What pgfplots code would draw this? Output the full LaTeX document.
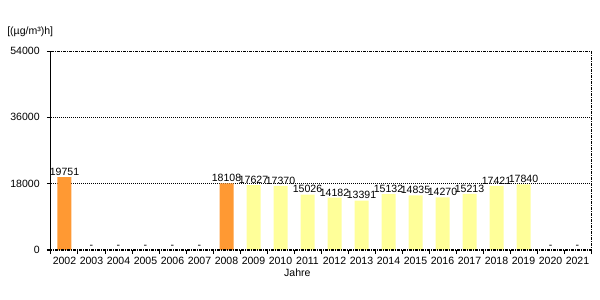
\documentclass[border=0pt]{standalone}
\usepackage{fontspec}
\setmainfont{Liberation Sans}
\usepackage{pgfplots}
\pgfplotsset{compat=1.18}
\definecolor{barorange}{RGB}{255,153,51}
\definecolor{baryellow}{RGB}{255,255,153}
\pgfplotsset{/pgf/number format/assume math mode=true, /pgf/number format/1000 sep={}}
\begin{document}
\begin{tikzpicture}[font=\fontsize{7.9}{9}\selectfont]
\begin{axis}[
  at={(38.25pt,37.5pt)}, anchor=south west,
  scale only axis, width=405pt, height=149.25pt,
  xmin=-0.5, xmax=19.5, ymin=0, ymax=54000,
  xtick={0,...,19},
  xticklabels={2002,2003,2004,2005,2006,2007,2008,2009,2010,2011,2012,2013,2014,2015,2016,2017,2018,2019,2020,2021},
  major x tick style={draw=none},
  minor xtick={-0.5,0.5,...,19.5},
  minor tick length=3pt,
  xtick pos=bottom, ytick pos=left,
  ytick={0,18000,36000,54000},
  scaled y ticks=false,
  tick align=outside,
  major tick length=3pt,
  tick style={black, line width=0.75pt},
  axis line style={draw=none},
  extra y ticks={18000,36000},
  extra y tick labels={},
  extra y tick style={grid=major, major tick length=0pt},
  grid style={black, line width=0.75pt, dash pattern=on 0.75pt off 0.75pt},
  xticklabel style={yshift=1pt},
  yticklabel style={xshift=-2pt},
  ticklabel style={font=\fontsize{7.9}{9}\selectfont},
  every axis plot/.append style={bar width=10.5pt, bar shift=0pt},
  nodes near coords style={font=\fontsize{7.9}{9}\selectfont, black, inner sep=1pt},
  clip=false,
]
\addplot[ybar, fill=barorange, draw=none, nodes near coords] coordinates {(0,19751) (6,18108)};
\addplot[ybar, fill=baryellow, draw=none, nodes near coords] coordinates {
(7,17627) (8,17370) (9,15026) (10,14182) (11,13391) (12,15132) (13,14835) (14,14270) (15,15213) (16,17421) (17,17840)};
\addplot[only marks, mark=none, nodes near coords={-}] coordinates {(1,0) (2,0) (3,0) (4,0) (5,0) (18,0) (19,0)};
\draw[black, line width=0.75pt, dash pattern=on 2.25pt off 0.75pt on 0.75pt off 0.75pt]
  (rel axis cs:0,1) -- (rel axis cs:1,1) -- (rel axis cs:1,0) -- (rel axis cs:0,0);
\draw[black, line width=0.75pt] (rel axis cs:0,0) -- (rel axis cs:0,1);
\end{axis}
\node[anchor=west, inner sep=0pt] at (5.25pt,201pt) {[(µg/m³)h]};
\node[inner sep=0pt] at (223pt,20.25pt) {Jahre};
\pgfresetboundingbox
\path[use as bounding box] (0,0) rectangle (450pt,225pt);
\end{tikzpicture}
\end{document}
